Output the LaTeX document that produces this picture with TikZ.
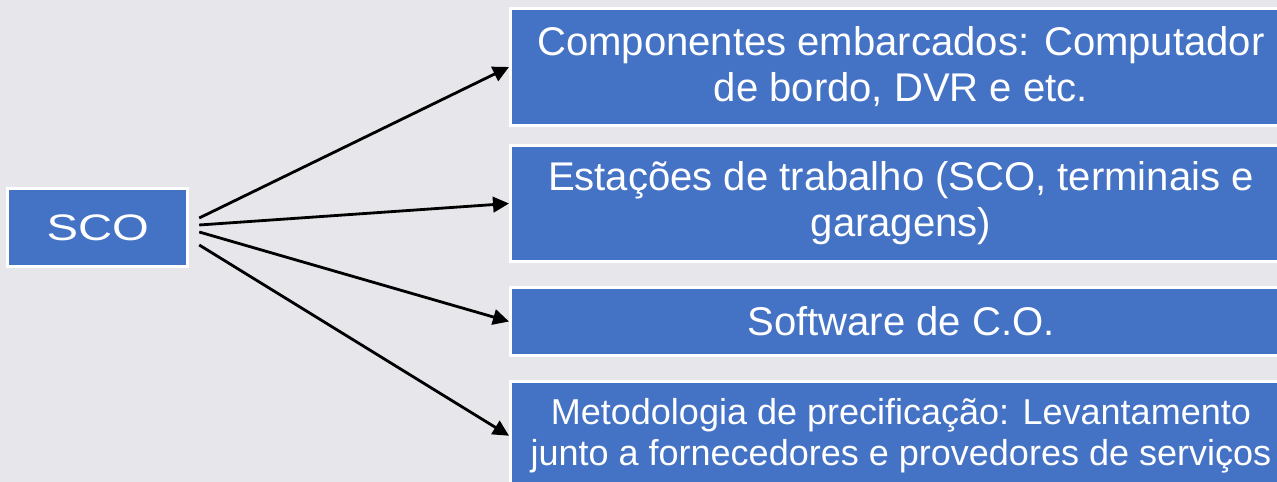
\documentclass[tikz,border=0pt]{standalone}
\usepackage{graphicx}
\usepackage{fontspec}
\setmainfont{Liberation Sans}
\usetikzlibrary{arrows.meta,positioning,calc}
\definecolor{slidebg}{RGB}{231,230,235}
\definecolor{boxblue}{RGB}{68,114,196}
\tikzset{
  itembox/.style={draw=white, line width=1.7pt, fill=boxblue, text=white,
    inner sep=0pt, align=center, anchor=west, minimum width=15.62cm},
  rootbox/.style={draw=white, line width=1.7pt, fill=boxblue, text=white,
    inner sep=0pt, minimum width=3.6cm, minimum height=1.56cm,
    font=\fontsize{21pt}{25pt}\selectfont},
  bigtxt/.style={font=\fontsize{22.8pt}{26.2pt}\selectfont},
  smalltxt/.style={font=\fontsize{20.5pt}{23.4pt}\selectfont},
  linkln/.style={-{Triangle[length=3.2mm,width=3.1mm]}, line width=1.6pt, black},
}

\begin{document}
\begin{tikzpicture}[x=0.02cm, y=-0.02cm]
    \useasboundingbox (0,0) rectangle (1277,482);
    \fill[slidebg] (0,0) rectangle (1277,482);
    % root and the four items
    \node[rootbox] (sco) at (97.75,227.5) {\scalebox{1.28}[1]{SCO}};
    \node[itembox, bigtxt, minimum height=2.34cm] (comp) at (509,67)
      {Componentes embarcados: Computador\\de bordo, DVR e etc.};
    \node[itembox, bigtxt, minimum height=2.32cm] (estac) at (509,203.5)
      {Estações de trabalho (SCO, terminais e\\garagens)};
    \node[itembox, bigtxt, minimum height=1.36cm] (soft) at (509,321.5)
      {Software de C.O.};
    \node[itembox, smalltxt, minimum height=2.17cm] (metod) at (509,435.75)
      {Metodologia de precificação: Levantamento\\junto a fornecedores e provedores de serviços};
    % links
    \coordinate (s1) at ([shift={(10,-9.5)}]sco.east);
    \coordinate (s2) at ([shift={(10,-2.5)}]sco.east);
    \coordinate (s3) at ([shift={(10,4.5)}]sco.east);
    \coordinate (s4) at ([shift={(10,17.5)}]sco.east);
    \draw[linkln] (s1) -- (comp.west);
    \draw[linkln] (s2) -- (estac.west);
    \draw[linkln] (s3) -- (soft.west);
    \draw[linkln] (s4) -- (metod.west);
\end{tikzpicture}
\end{document}
